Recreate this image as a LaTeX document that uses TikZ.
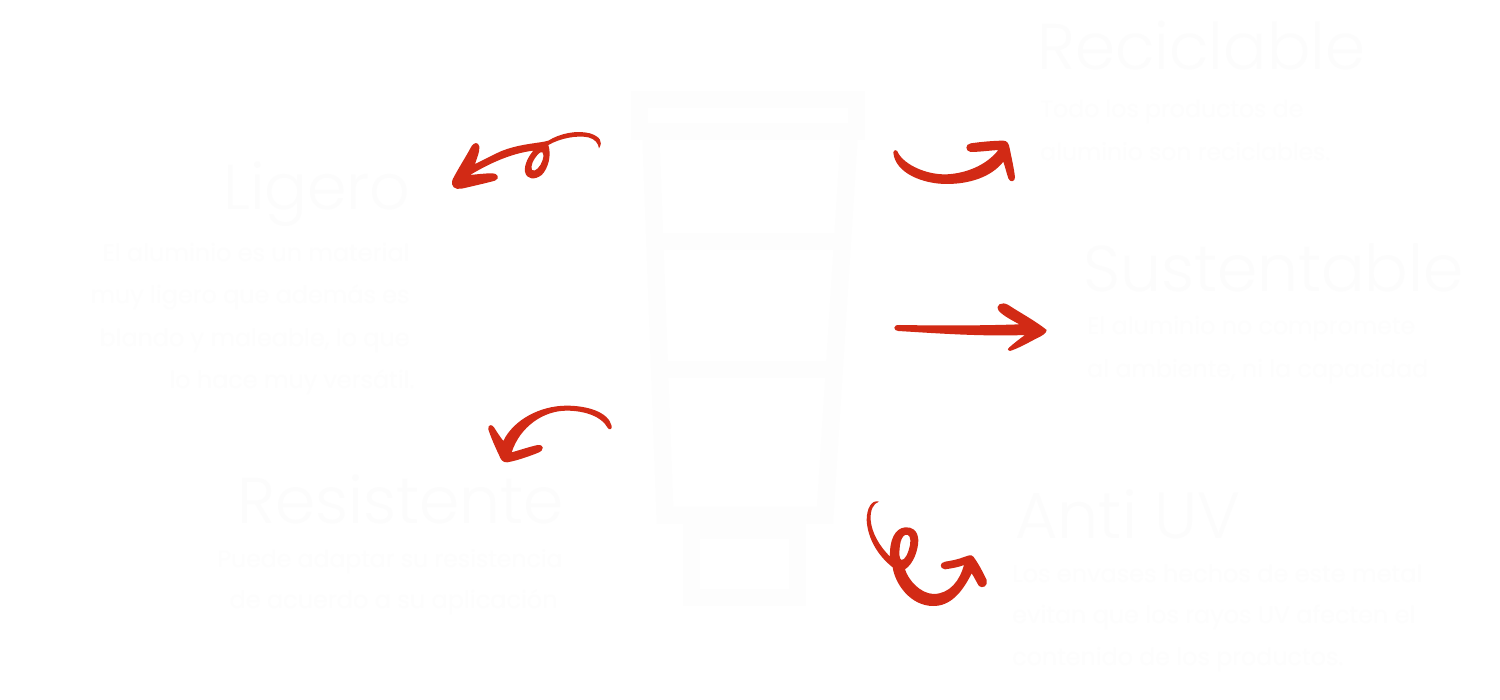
\documentclass[tikz,border=0pt]{standalone}
\usepackage{fontspec}
\usepackage{graphicx}
\setmainfont{Poppins}
\newfontfamily\headfont{Poppins Light}
\definecolor{headc}{HTML}{FCFCFC}
\definecolor{ink}{HTML}{FDFDFD}
\definecolor{cupc}{HTML}{FDFDFD}
\definecolor{brush}{HTML}{D22A15}
\newcommand{\fw}[2]{\resizebox{\dimexpr#1pt/2\relax}{!}{#2}}
\tikzset{
  px/.style={x=0.5pt,y=-0.5pt},
  headl/.style={inner sep=0pt,anchor=base west,text=headc,font=\headfont},
  bodyl/.style={inner sep=0pt,anchor=base west,text=ink},
  bodyr/.style={inner sep=0pt,anchor=base east,text=ink},
  cupline/.style={draw=cupc,line width=8.5pt,line join=miter},
  stroke/.style={fill=brush,even odd rule},
  brushpiece/.style={shift={#1},scale=1/3}
}
\begin{document}
\begin{tikzpicture}[px]
\useasboundingbox (0,0) rectangle (1500,700);
\fill[white] (0,0) rectangle (1500,700);
% cup
\draw[cupline] (639,100) rectangle (856,132);
\draw[cupline] (651,140) -- (665,515) -- (825,515) -- (849,140);
\draw[cupline] (654,242) -- (843,242);
\draw[cupline] (660,370) -- (834,370);
\draw[cupline] (691,530) rectangle (797,597);
% left texts
\node[headl] (ligero) at (223,210) {\fw{187}{Ligero}};
\node[bodyr] (l1) at (410,262) {\fw{307}{El aluminio es un material}};
\node[bodyr] (l2) at (410,304) {\fw{319}{muy ligero que además es}};
\node[bodyr] (l3) at (410,346) {\fw{310}{blando y maleable, lo que}};
\node[bodyr] (l4) at (415,388) {\fw{245}{lo hace muy versátil.}};
\node[headl] (resist) at (237,523) {\fw{326}{Resistente}};
\node[bodyr] (r1) at (563,567) {\fw{345}{Puede adaptar su resistencia}};
\node[bodyr] (r2) at (558,608) {\fw{328}{de acuerdo a su aplicación}};
% right texts
\node[headl] (recic) at (1037,70) {\fw{328}{Reciclable}};
\node[bodyl] (c1) at (1040,118) {\fw{263}{Todo los productos de}};
\node[bodyl] (c2) at (1040,161) {\fw{290}{aluminio son reciclables.}};
\node[headl] (sust) at (1083,292) {\fw{380}{Sustentable}};
\node[bodyl] (s1) at (1087,335) {\fw{328}{El aluminio no compromete}};
\node[bodyl] (s2) at (1087,377) {\fw{341}{al ambiente, ni la capacidad}};
\node[headl] (anti) at (1015,538) {\fw{225}{Anti UV}};
\node[bodyl] (a1) at (1012,582) {\fw{410}{Los envases hechos de este metal}};
\node[bodyl] (a2) at (1012,623) {\fw{403}{evitan que los rayos UV afecten el}};
\node[bodyl] (a3) at (1012,665) {\fw{331}{contenido de los productos.}};
% arrows
\begin{scope}[brushpiece={(420,110)}]
\fill[stroke] (537,115) .. controls (550,95) and (540,80) .. (510,70) .. controls (470,60) and (420,70) .. (385,92) .. controls (360,100) and (300,100) .. (240,125) .. controls (215,137) and (190,150) .. (165,162) .. controls (170,145) and (180,125) .. (178,110) .. controls (175,95) and (162,97) .. (155,108) .. controls (135,145) and (115,175) .. (98,208) .. controls (90,230) and (105,240) .. (125,236) .. controls (160,228) and (195,220) .. (225,212) .. controls (240,205) and (235,190) .. (215,190) .. controls (195,190) and (170,193) .. (150,195) .. controls (200,165) and (270,130) .. (340,122) .. controls (325,140) and (312,165) .. (315,185) .. controls (320,210) and (345,210) .. (365,195) .. controls (385,175) and (395,135) .. (385,105) .. controls (420,85) and (470,75) .. (505,82) .. controls (525,87) and (535,100) .. (537,115) -- cycle
 (352,135) .. controls (365,120) and (375,125) .. (368,150) .. controls (362,170) and (345,188) .. (336,180) .. controls (330,170) and (340,148) .. (352,135) -- cycle;
\end{scope}
\begin{scope}[brushpiece={(860,120)}]
\fill[stroke] (100,97) .. controls (102,88) and (112,88) .. (115,100) .. controls (135,135) and (200,165) .. (260,163) .. controls (320,160) and (380,135) .. (415,90) .. controls (385,92) and (355,96) .. (332,96) .. controls (315,94) and (315,72) .. (332,70) .. controls (360,66) and (400,62) .. (430,62) .. controls (442,62) and (447,72) .. (449,85) .. controls (455,115) and (462,145) .. (465,172) .. controls (465,186) and (450,188) .. (445,175) .. controls (440,160) and (435,140) .. (430,125) .. controls (395,170) and (330,192) .. (260,192) .. controls (190,192) and (105,160) .. (100,97) -- cycle;
\end{scope}
\begin{scope}[brushpiece={(860,290)}]
\fill[stroke] (103,113) .. controls (103,106) and (110,105) .. (120,105) .. controls (230,107) and (370,107) .. (478,103) .. controls (455,90) and (430,78) .. (416,62) .. controls (405,45) and (425,33) .. (445,45) .. controls (480,68) and (530,95) .. (560,120) .. controls (560,130) and (545,138) .. (530,145) .. controls (505,158) and (475,175) .. (450,183) .. controls (442,183) and (442,178) .. (448,172) .. controls (462,160) and (478,147) .. (495,135) .. controls (370,140) and (230,130) .. (115,123) .. controls (107,122) and (103,119) .. (103,113) -- cycle;
\end{scope}
\begin{scope}[brushpiece={(470,390)}]
\fill[stroke] (425,108) .. controls (428,118) and (416,122) .. (412,112) .. controls (395,80) and (345,62) .. (290,62) .. controls (220,62) and (150,110) .. (125,187) .. controls (150,180) and (180,170) .. (203,165) .. controls (222,163) and (224,180) .. (205,188) .. controls (175,200) and (140,212) .. (112,217) .. controls (97,218) and (92,208) .. (87,195) .. controls (75,170) and (62,140) .. (55,118) .. controls (53,103) and (66,102) .. (72,112) .. controls (80,125) and (90,140) .. (100,153) .. controls (130,90) and (210,47) .. (290,47) .. controls (350,47) and (415,65) .. (425,108) -- cycle;
\end{scope}
\begin{scope}[brushpiece={(850,490)}]
\fill[stroke] (87,35) .. controls (65,28) and (50,55) .. (50,90) .. controls (52,135) and (75,190) .. (128,232) .. controls (135,280) and (180,348) .. (250,348) .. controls (300,348) and (335,310) .. (365,250) .. controls (375,265) and (380,278) .. (387,288) .. controls (397,297) and (415,288) .. (410,270) .. controls (398,245) and (385,220) .. (370,200) .. controls (362,192) and (355,197) .. (345,200) .. controls (325,208) and (305,212) .. (285,215) .. controls (268,218) and (268,236) .. (285,238) .. controls (305,235) and (325,232) .. (342,225) .. controls (330,270) and (300,312) .. (250,312) .. controls (210,310) and (175,270) .. (165,238) .. controls (190,222) and (205,180) .. (205,150) .. controls (203,120) and (185,110) .. (165,112) .. controls (135,115) and (118,150) .. (120,200) .. controls (90,170) and (65,130) .. (62,90) .. controls (60,60) and (70,40) .. (87,35) -- cycle
 (165,135) .. controls (178,130) and (184,145) .. (180,165) .. controls (175,190) and (165,210) .. (155,210) .. controls (147,208) and (147,190) .. (150,165) .. controls (152,150) and (158,138) .. (165,135) -- cycle;
\end{scope}
\end{tikzpicture}
\end{document}
